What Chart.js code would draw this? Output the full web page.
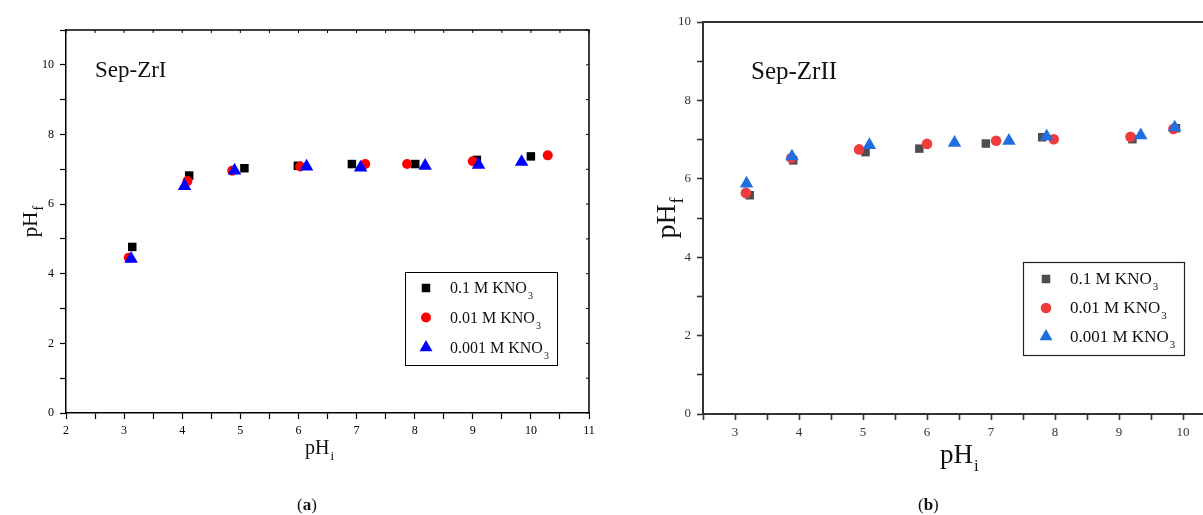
<!DOCTYPE html>
<html>
<head>
<meta charset="utf-8">
<script src="https://cdn.jsdelivr.net/npm/chart.js@4.4.0/dist/chart.umd.min.js"></script>
<style>
    html, body { margin: 0; padding: 0; background: #fff; overflow: hidden; width: 1203px; height: 515px; }
    canvas { position: absolute; top: 0; }
    #chartA { left: 0; }
    #chartB { left: 630px; }
</style>
</head>
<body>
<canvas id="chartA" width="620" height="515"></canvas>
<canvas id="chartB" width="630" height="515"></canvas>
<script>
// (a) Sep-ZrI : initial pH vs final pH
const pHiA_01 = [3.14, 4.12, 5.07, 5.99, 6.92, 8.01, 9.07, 10.0];
const pHfA_01 = [4.77, 6.82, 7.03, 7.10, 7.15, 7.15, 7.27, 7.37];
const pHiA_001 = [3.08, 4.09, 4.86, 6.03, 7.15, 7.87, 9.00, 10.29];
const pHfA_001 = [4.46, 6.66, 6.96, 7.08, 7.15, 7.15, 7.23, 7.40];
const pHiA_0001 = [3.12, 4.04, 4.90, 6.14, 7.07, 8.18, 9.10, 9.84];
const pHfA_0001 = [4.43, 6.52, 6.96, 7.08, 7.05, 7.10, 7.13, 7.21];

// (b) Sep-ZrII
const pHiB_01 = [3.23, 3.91, 5.04, 5.88, 6.92, 7.80, 9.21, 9.89];
const pHfB_01 = [5.58, 6.47, 6.68, 6.77, 6.90, 7.06, 7.01, 7.29];
const pHiB_001 = [3.17, 3.88, 4.94, 6.00, 7.08, 7.98, 9.18, 9.85];
const pHfB_001 = [5.64, 6.53, 6.75, 6.89, 6.97, 7.01, 7.07, 7.27];
const pHiB_0001 = [3.18, 3.89, 5.10, 6.43, 7.28, 7.87, 9.34, 9.87];
const pHfB_0001 = [5.88, 6.57, 6.86, 6.92, 6.97, 7.08, 7.11, 7.31];

const seriesLabels = ['0.1 M KNO', '0.01 M KNO', '0.001 M KNO'];

const SERIF = '"Liberation Serif", "DejaVu Serif", serif';

function toPoints(xs, ys) {
    return xs.map(function(x, i) { return { x: x, y: ys[i] }; });
}

function drawMarker(ctx, style, x, y, r) {
    ctx.beginPath();
    if (style === 'rect') {
        const s = r / Math.SQRT2;
        ctx.rect(x - s, y - s, 2 * s, 2 * s);
    } else if (style === 'triangle') {
        ctx.moveTo(x, y - r);
        ctx.lineTo(x + 0.866 * r, y + 0.5 * r);
        ctx.lineTo(x - 0.866 * r, y + 0.5 * r);
        ctx.closePath();
    } else {
        ctx.arc(x, y, r, 0, Math.PI * 2);
    }
    ctx.fill();
}

// text with a subscript, left aligned at x, baseline y
function drawSub(ctx, text, sub, x, y, size, subSize, drop, color) {
    ctx.fillStyle = color;
    ctx.textAlign = 'left';
    ctx.textBaseline = 'alphabetic';
    ctx.font = size + 'px ' + SERIF;
    const w = ctx.measureText(text).width;
    ctx.fillText(text, x, y);
    ctx.font = subSize + 'px ' + SERIF;
    ctx.fillText(sub, x + w + 1, y + drop);
    return w + 1 + ctx.measureText(sub).width;
}

function subWidth(ctx, text, sub, size, subSize) {
    ctx.font = size + 'px ' + SERIF;
    const w = ctx.measureText(text).width;
    ctx.font = subSize + 'px ' + SERIF;
    return w + 1 + ctx.measureText(sub).width;
}

function drawLegend(ctx, lg) {
    ctx.save();
    ctx.strokeStyle = lg.frameColor;
    ctx.lineWidth = lg.frameWidth;
    ctx.strokeRect(lg.x, lg.y, lg.w, lg.h);
    lg.rows.forEach(function(row, i) {
        ctx.fillStyle = row.color;
        drawMarker(ctx, row.style, lg.markerX, row.y, row.radius);
        drawSub(ctx, seriesLabels[i], '3', lg.textX, row.y + 5, lg.size, lg.subSize, 6, '#111');
    });
    ctx.restore();
}

function drawCaption(ctx, letter, x, y) {
    ctx.fillStyle = '#111';
    ctx.textAlign = 'left';
    ctx.textBaseline = 'alphabetic';
    ctx.font = '17px ' + SERIF;
    ctx.fillText('(', x, y);
    let w = ctx.measureText('(').width;
    ctx.font = 'bold 17px ' + SERIF;
    ctx.fillText(letter, x + w, y);
    w += ctx.measureText(letter).width;
    ctx.font = '17px ' + SERIF;
    ctx.fillText(')', x + w, y);
}

const overlayA = {
    id: 'overlayA',
    afterDraw: function(chart) {
        const ctx = chart.ctx;
        const a = chart.chartArea;
        const xs = chart.scales.x, ys = chart.scales.y;
        ctx.save();
        // closing frame with small inward ticks
        ctx.strokeStyle = '#000';
        ctx.lineWidth = 1.5;
        ctx.beginPath();
        ctx.moveTo(a.left, a.top);
        ctx.lineTo(a.right, a.top);
        ctx.lineTo(a.right, a.bottom);
        ctx.stroke();
        ctx.lineWidth = 1;
        ctx.beginPath();
        xs.ticks.forEach(function(t) {
            const px = xs.getPixelForValue(t.value);
            ctx.moveTo(px, a.top);
            ctx.lineTo(px, a.top + 3);
        });
        ys.ticks.forEach(function(t) {
            const py = ys.getPixelForValue(t.value);
            ctx.moveTo(a.right, py);
            ctx.lineTo(a.right - 3, py);
        });
        ctx.stroke();

        ctx.fillStyle = '#111';
        ctx.font = '23px ' + SERIF;
        ctx.textAlign = 'left';
        ctx.fillText('Sep-ZrI', 95, 77);

        drawLegend(ctx, {
            x: 405.5, y: 272.5, w: 152, h: 93,
            markerX: 426, textX: 450, size: 16, subSize: 10,
            frameColor: '#000', frameWidth: 1,
            rows: [
                { style: 'rect', color: '#000000', radius: 6, y: 288 },
                { style: 'circle', color: '#ff0000', radius: 5, y: 317.5 },
                { style: 'triangle', color: '#0000ff', radius: 7.5, y: 347.5 }
            ]
        });

        drawSub(ctx, 'pH', 'i', 305, 454, 20, 13, 6, '#111');

        ctx.save();
        const wf = subWidth(ctx, 'pH', 'f', 21, 14);
        ctx.translate(37, (a.top + a.bottom) / 2);
        ctx.rotate(-Math.PI / 2);
        drawSub(ctx, 'pH', 'f', -wf / 2, 0, 21, 14, 6, '#111');
        ctx.restore();

        drawCaption(ctx, 'a', 297, 510);
        ctx.restore();
    }
};

const overlayB = {
    id: 'overlayB',
    afterDraw: function(chart) {
        const ctx = chart.ctx;
        const a = chart.chartArea;
        ctx.save();
        ctx.strokeStyle = '#333';
        ctx.lineWidth = 2;
        ctx.beginPath();
        ctx.moveTo(a.left, a.top);
        ctx.lineTo(chart.width, a.top);
        ctx.stroke();

        ctx.fillStyle = '#111';
        ctx.font = '25px ' + SERIF;
        ctx.textAlign = 'left';
        ctx.fillText('Sep-ZrII', 751 - 630, 79);

        drawLegend(ctx, {
            x: 1023.5 - 630, y: 262.5, w: 161, h: 93,
            markerX: 1046 - 630, textX: 1070 - 630, size: 17, subSize: 11,
            frameColor: '#222', frameWidth: 1.2,
            rows: [
                { style: 'rect', color: '#4d4d4d', radius: 6, y: 279 },
                { style: 'circle', color: '#ee3b3b', radius: 5.3, y: 308 },
                { style: 'triangle', color: '#1f6fe0', radius: 7.5, y: 336.5 }
            ]
        });

        drawSub(ctx, 'pH', 'i', 940 - 630, 463, 27, 17, 8, '#111');

        ctx.save();
        const wf = subWidth(ctx, 'pH', 'f', 28, 18);
        ctx.translate(675 - 630, (a.top + a.bottom) / 2);
        ctx.rotate(-Math.PI / 2);
        drawSub(ctx, 'pH', 'f', -wf / 2, 0, 28, 18, 8, '#111');
        ctx.restore();

        drawCaption(ctx, 'b', 918 - 630, 510);
        ctx.restore();
    }
};

function scatterSet(label, xs, ys, style, color, radius, order) {
    return {
        label: label,
        data: toPoints(xs, ys),
        pointStyle: style,
        pointRadius: radius,
        pointHoverRadius: radius,
        pointBorderWidth: 0,
        backgroundColor: color,
        borderColor: color,
        order: order
    };
}

function axis(min, max, step, labelEvery, width, height, color, lineW, fontSize, pad) {
    return {
        type: 'linear',
        min: min,
        max: max,
        afterFit: function(scale) {
            if (width !== null) scale.width = width;
            if (height !== null) scale.height = height;
        },
        ticks: {
            stepSize: step,
            autoSkip: false,
            maxRotation: 0,
            padding: pad,
            color: color,
            font: { family: SERIF, size: fontSize },
            callback: function(v) {
                return Math.abs(v / labelEvery - Math.round(v / labelEvery)) < 1e-6 ? String(v) : '';
            }
        },
        grid: {
            display: true,
            drawOnChartArea: false,
            drawTicks: true,
            tickLength: 6,
            tickColor: color,
            tickWidth: lineW * 0.8
        },
        border: { display: true, color: color, width: lineW }
    };
}

document.addEventListener('DOMContentLoaded', function() {
    Chart.defaults.animation = false;

    new Chart(document.getElementById('chartA'), {
        type: 'scatter',
        data: {
            datasets: [
                scatterSet(seriesLabels[0], pHiA_01, pHfA_01, 'rect', '#000000', 6, 3),
                scatterSet(seriesLabels[1], pHiA_001, pHfA_001, 'circle', '#ff0000', 5, 2),
                scatterSet(seriesLabels[2], pHiA_0001, pHfA_0001, 'triangle', '#0000ff', 7.8, 1)
            ]
        },
        options: {
            responsive: false,
            animation: false,
            layout: { padding: { top: 30, right: 31, left: 0, bottom: 0 } },
            plugins: { legend: { display: false }, tooltip: { enabled: false } },
            scales: {
                x: axis(2, 11, 0.5, 1, null, 102, '#000', 1.5, 12, 5),
                y: axis(0, 11, 1, 2, 66, null, '#000', 1.5, 12, 6)
            }
        },
        plugins: [overlayA]
    });

    new Chart(document.getElementById('chartB'), {
        type: 'scatter',
        data: {
            datasets: [
                scatterSet(seriesLabels[0], pHiB_01, pHfB_01, 'rect', '#4d4d4d', 6, 3),
                scatterSet(seriesLabels[1], pHiB_001, pHfB_001, 'circle', '#ee3b3b', 5.3, 2),
                scatterSet(seriesLabels[2], pHiB_0001, pHfB_0001, 'triangle', '#1f6fe0', 7.8, 1)
            ]
        },
        options: {
            responsive: false,
            animation: false,
            layout: { padding: { top: 22, right: 13, left: 0, bottom: 0 } },
            plugins: { legend: { display: false }, tooltip: { enabled: false } },
            scales: {
                x: axis(2.5, 11, 0.5, 1, null, 101, '#333', 2, 13, 5),
                y: axis(0, 10, 1, 2, 73, null, '#333', 2, 13, 6)
            }
        },
        plugins: [overlayB]
    });
});
</script>
</body>
</html>
